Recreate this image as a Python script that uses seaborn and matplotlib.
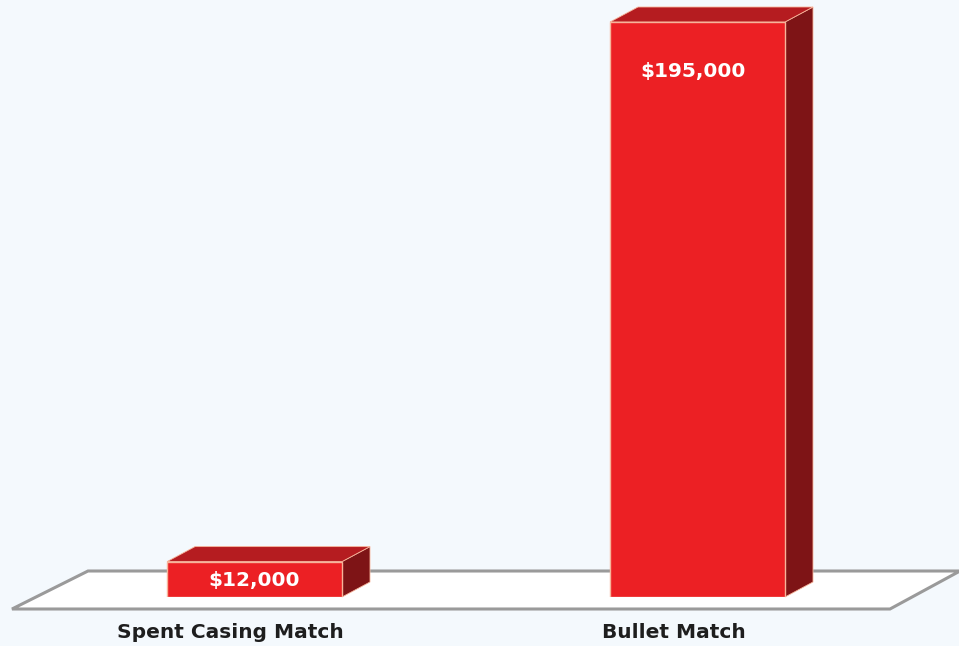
import matplotlib
matplotlib.use("Agg")
import matplotlib.pyplot as plt
from matplotlib.patches import Polygon
import seaborn as sns
import numpy as np

categories = ["Spent Casing Match", "Bullet Match"]
values = [12000, 195000]
value_labels = ["$12,000", "$195,000"]

BG = "#F4F9FD"
FRONT = "#EC2024"
TOP = "#B51C20"
SIDE = "#7E1416"
EDGE = "#F7B49A"

sns.set_style("white")
plt.rcParams["font.family"] = ["DejaVu Sans"]

W, H = 959, 646
fig = plt.figure(figsize=(W / 100, H / 100), dpi=100, facecolor=BG)
# axes: value 0 at pixel y=597, 195000 at y=22
px_per_unit = (597 - 22) / 195000
ax_bottom = (H - 597) / H
ax_height = 200000 * px_per_unit / H
ax = fig.add_axes([0, ax_bottom, 1, ax_height])
ax.set_facecolor("none")

sns.barplot(x=categories, y=values, color=FRONT, saturation=1, width=0.395,
            edgecolor=EDGE, linewidth=1.0, ax=ax, zorder=3)
ax.set_xlim(-254.5 / 443, (959 - 254.5) / 443)
ax.set_ylim(0, 200000)
ax.axis("off")

# floor (decorative, in figure pixels)
floor = Polygon([(12, H - 609), (890, H - 609), (960, H - 571), (88, H - 571)],
                closed=True, facecolor="white", edgecolor="#9A9A9A", linewidth=2.2,
                transform=None, zorder=0, clip_on=False)
ax.add_patch(floor)

fig.canvas.draw()
dx, dy = 28, 15
for p in list(ax.patches):
    if p is floor:
        continue
    x0, y0 = p.get_x(), p.get_y()
    x1, y1 = x0 + p.get_width(), y0 + p.get_height()
    (X0, Y0), (X1, Y1) = ax.transData.transform([(x0, y0), (x1, y1)])
    side = Polygon([(X1, Y0), (X1 + dx, Y0 + dy), (X1 + dx, Y1 + dy), (X1, Y1)],
                   closed=True, facecolor=SIDE, edgecolor=EDGE, linewidth=0.6,
                   transform=None, zorder=2, clip_on=False)
    top = Polygon([(X0, Y1), (X0 + dx, Y1 + dy), (X1 + dx, Y1 + dy), (X1, Y1)],
                  closed=True, facecolor=TOP, edgecolor=EDGE, linewidth=0.6,
                  transform=None, zorder=2, clip_on=False)
    ax.add_patch(side)
    ax.add_patch(top)

for i, (v, lab) in enumerate(zip(values, value_labels)):
    bar_px = v * px_per_unit
    if bar_px > 120:
        ax.annotate(lab, xy=(i, v), xytext=(-4, -50), textcoords="offset pixels",
                    ha="center", va="center", color="white", fontsize=14.5,
                    fontweight="bold", zorder=6)
    else:
        ax.annotate(lab, xy=(i, v / 2), xytext=(0, -1), textcoords="offset pixels",
                    ha="center", va="center", color="white", fontsize=14.5,
                    fontweight="bold", zorder=6)
    ax.annotate(categories[i], xy=(i, 0), xytext=(-24, -35), textcoords="offset pixels",
                ha="center", va="center", color="#1E1E1E", fontsize=14.5,
                fontweight="bold", annotation_clip=False)

fig.savefig("out.png", dpi=100, facecolor=BG)
